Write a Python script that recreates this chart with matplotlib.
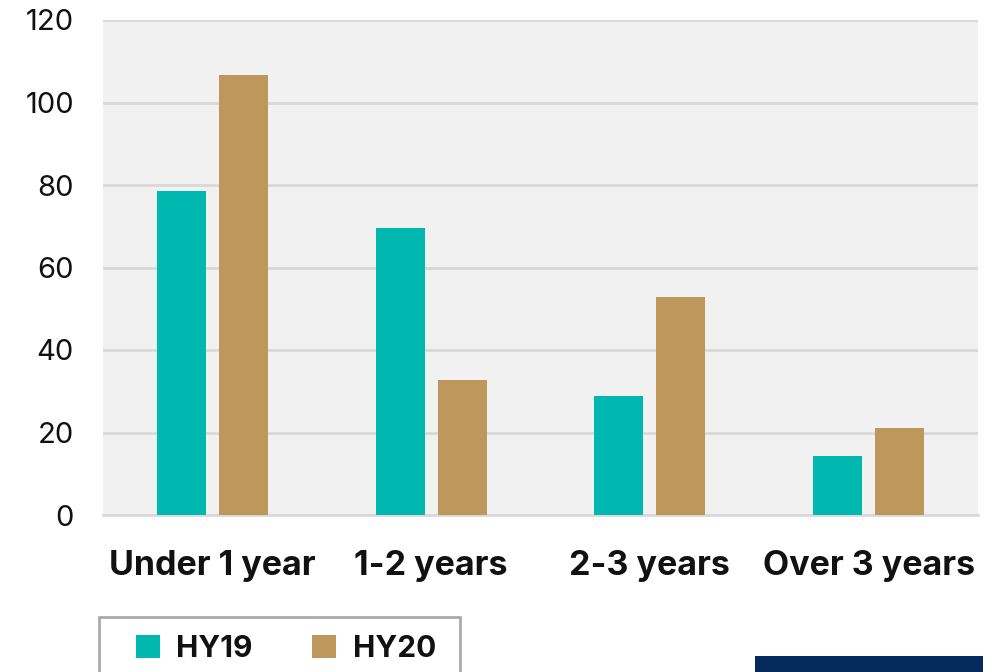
import numpy as np
import matplotlib
matplotlib.use("Agg")
import matplotlib.pyplot as plt
from matplotlib.patches import Rectangle

# data
categories = ["Under 1 year", "1-2 years", "2-3 years", "Over 3 years"]
hy19 = [78.5, 69.6, 28.8, 14.3]
hy20 = [106.7, 32.7, 52.8, 21.1]
series_names = ["HY19", "HY20"]
yticks = [0, 20, 40, 60, 80, 100, 120]

teal = "#00B8B0"
tan = "#BE975D"

plt.rcParams["font.family"] = ["Inter", "DejaVu Sans"]

fig = plt.figure(figsize=(10.03, 6.72), dpi=100)
ax = fig.add_axes([103/1003, 1-515/672, 875/1003, 495/672])
ax.set_facecolor("#F1F1F1")

x = np.arange(len(categories))
w = 0.224
off = 0.142
ax.bar(x - off, hy19, w, color=teal, label=series_names[0], zorder=3)
ax.bar(x + off, hy20, w, color=tan, label=series_names[1], zorder=3)

ax.set_xlim(-0.5, 3.5)
ax.set_ylim(0, 120)
ax.set_yticks(yticks)
ax.set_yticklabels([str(t) for t in yticks], fontsize=21, color="#111111")
ax.set_xticks(x)
ax.set_xticklabels(categories, fontsize=24.5, fontweight="bold", color="#111111")
ax.tick_params(axis="y", length=0, pad=21)
ax.tick_params(axis="x", length=0, pad=25)
ax.yaxis.grid(True, color="#D9D9D9", linewidth=2, zorder=1)
ax.set_axisbelow(True)
for s in ["top", "right", "left"]:
    ax.spines[s].set_visible(False)
ax.spines["bottom"].set_color("#D9D9D9")
ax.spines["bottom"].set_linewidth(2)

# legend without frame, frame drawn separately (box runs off the bottom edge)
leg = fig.legend(loc="center left", bbox_to_anchor=(136/1003, 1-649/672), ncol=2,
                 frameon=False, borderaxespad=0, borderpad=0,
                 handlelength=0.8, handleheight=0.8, handletextpad=0.55,
                 columnspacing=2.0, prop={"weight": "bold", "size": 21.5})
for t in leg.get_texts():
    t.set_color("#111111")
fig.patches.append(Rectangle((99/1003, -10/672), 361/1003, 65/672,
                             transform=fig.transFigure, facecolor="white",
                             edgecolor="#AAAAAA", linewidth=2, zorder=0))

# dark bar at bottom right
fig.patches.append(Rectangle((755/1003, 0), 228/1003, 16/672, transform=fig.transFigure,
                             facecolor="#042B5B", edgecolor="none"))

fig.savefig("out.png", dpi=100)
